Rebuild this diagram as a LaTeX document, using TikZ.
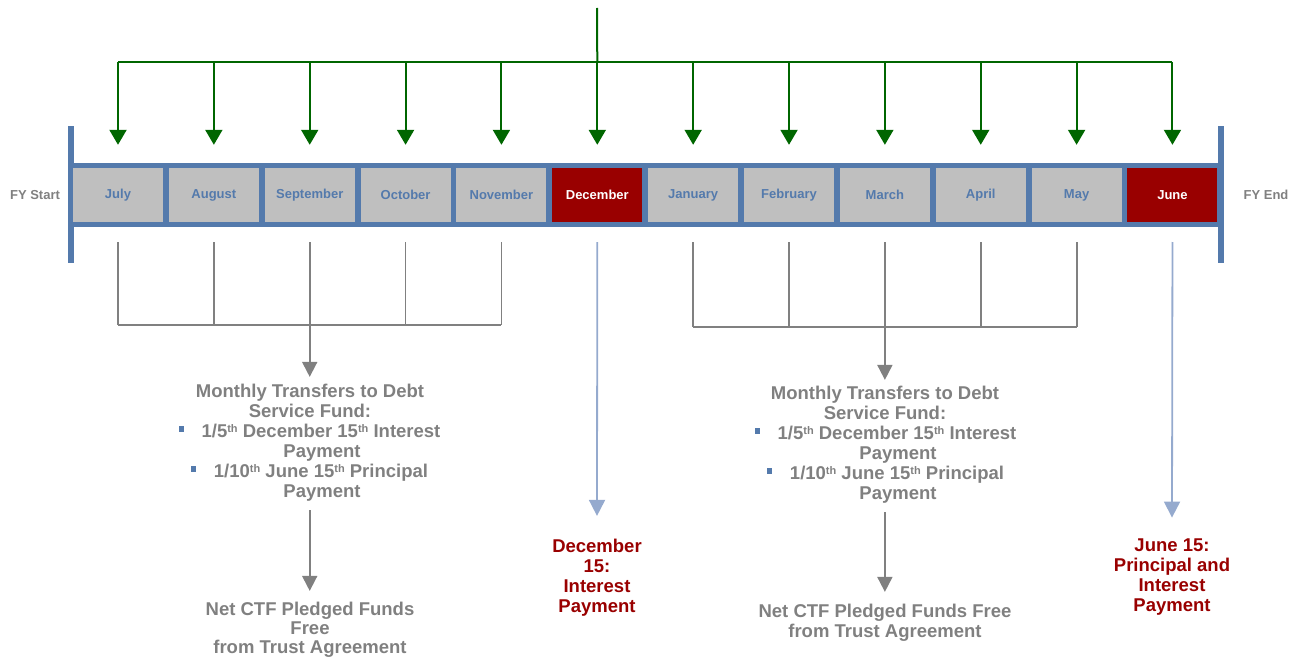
\documentclass[tikz,border=0pt]{standalone}
\usepackage{fontspec}
\setmainfont{Liberation Sans}
\usetikzlibrary{arrows.meta}
\definecolor{bandblue}{RGB}{84,122,172}
\definecolor{cellgrey}{RGB}{191,191,191}
\definecolor{darkred}{RGB}{153,0,0}
\definecolor{txtgrey}{RGB}{128,128,128}
\definecolor{arrgreen}{RGB}{0,102,0}
\definecolor{lightblue}{RGB}{149,170,206}
\definecolor{linegrey}{RGB}{128,128,128}
\newcommand\mysupth{\raisebox{4.5pt}{\fontsize{11}{11}\selectfont th}}
\begin{document}
\begin{tikzpicture}[x=1pt,y=-1pt,
 cell/.style={minimum width=90pt,minimum height=54pt,inner sep=0,fill=cellgrey,text=bandblue,font=\fontsize{13}{15}\selectfont\bfseries},
 redcell/.style={cell,fill=darkred,text=white},
 body/.style={inner sep=0,anchor=base,text=txtgrey,font=\fontsize{18.5}{20}\selectfont\bfseries},
 redtxt/.style={body,text=darkred},
 fytxt/.style={inner sep=0,anchor=base,text=txtgrey,font=\fontsize{13}{15}\selectfont\bfseries},
 bulletbox/.style={fill=bandblue,minimum size=5.5pt,inner sep=0},
 gline/.style={arrgreen,line width=2pt},
 garrow/.style={gline,-{Triangle[width=17pt,length=15pt]}},
 tline/.style={linegrey,line width=1.8pt},
 tarrow/.style={tline,-{Triangle[width=15pt,length=15pt]}},
 barrow/.style={lightblue,line width=1.8pt,-{Triangle[width=16pt,length=16pt]}},
]
\useasboundingbox (0,0) rectangle (1301,658);
% band
\fill[bandblue] (74,163) rectangle (1218,227);
\fill[bandblue] (68,126) rectangle (74,263);
\fill[bandblue] (1218,126) rectangle (1224,263);
\foreach \m/\s [count=\i] in {July/cell,August/cell,September/cell,October/cell,November/cell,December/redcell,January/cell,February/cell,March/cell,April/cell,May/cell,June/redcell}
  \node[\s] (m\i) at ({118+95.86*(\i-1)},195) {\m};
\node[fytxt] (fys) at (35,199) {FY Start};
\node[fytxt] (fye) at (1266,199) {FY End};
% green distribution
\coordinate (top) at (597,8);
\coordinate (bus) at (0,62);
\coordinate (tl) at (0,242);
\coordinate (hb1) at (0,325);
\coordinate (hb2) at (0,327);
\draw[gline] (top) -- (m6 |- bus);
\draw[gline] (m1 |- bus) -- (m12 |- bus);
\foreach \i in {1,...,12}
  \draw[garrow] (m\i |- bus) -- ([yshift=23pt]m\i.north);
% left text block
\node[body] (h1a) at (310,397) {Monthly Transfers to Debt};
\node[body] (h1b) at (310,417) {Service Fund:};
\node[body] (l3) at (321,437) {1/5\mysupth{} December 15\mysupth{} Interest};
\node[body] (l4) at (322,457) {Payment};
\node[body] (l5) at (321,477) {1/10\mysupth{} June 15\mysupth{} Principal};
\node[body] (l6) at (322,497) {Payment};
\node[bulletbox] (bl3) at ([xshift=-20pt,yshift=8pt]l3.base west) {};
\node[bulletbox] (bl5) at ([xshift=-20.5pt,yshift=8pt]l5.base west) {};
\node[body] (n1a) at (310,615) {Net CTF Pledged Funds};
\node[body] (n1b) at (310,634) {Free};
\node[body] (n1c) at (310,653) {from Trust Agreement};
% right text block
\node[body] (h2a) at (885,399) {Monthly Transfers to Debt};
\node[body] (h2b) at (885,419) {Service Fund:};
\node[body] (r3) at (897,439) {1/5\mysupth{} December 15\mysupth{} Interest};
\node[body] (r4) at (898,459) {Payment};
\node[body] (r5) at (897,479) {1/10\mysupth{} June 15\mysupth{} Principal};
\node[body] (r6) at (898,499) {Payment};
\node[bulletbox] (br3) at ([xshift=-20pt,yshift=8pt]r3.base west) {};
\node[bulletbox] (br5) at ([xshift=-20.5pt,yshift=8pt]r5.base west) {};
\node[body] (n2a) at (885,617) {Net CTF Pledged Funds Free};
\node[body] (n2b) at (885,637) {from Trust Agreement};
% red payment texts
\node[redtxt] (d1) at (597,552) {December};
\node[redtxt] (d2) at (597,572) {15:};
\node[redtxt] (d3) at (597,592) {Interest};
\node[redtxt] (d4) at (597,612) {Payment};
\node[redtxt] (j1) at (1172,551) {June 15:};
\node[redtxt] (j2) at (1172,571) {Principal and};
\node[redtxt] (j3) at (1172,591) {Interest};
\node[redtxt] (j4) at (1172,611) {Payment};
% grey collectors left
\foreach \i in {1,...,5}
  \draw[tline] (m\i |- tl) -- (m\i |- hb1);
\draw[tline] (m1 |- hb1) -- (m5 |- hb1);
\draw[tarrow] (m3 |- hb1) -- ([yshift=6.5pt]m3 |- h1a.north);
\draw[tarrow] ([yshift=-9pt]m3 |- l6.south) -- ([yshift=10.5pt]m3 |- n1a.north);
% grey collectors right
\foreach \i in {7,...,11}
  \draw[tline] (m\i |- tl) -- (m\i |- hb2);
\draw[tline] (m7 |- hb2) -- (m11 |- hb2);
\draw[tarrow] (m9 |- hb2) -- ([yshift=5.5pt]m9 |- h2a.north);
\draw[tarrow] ([yshift=-9pt]m9 |- r6.south) -- ([yshift=11.5pt]m9 |- n2a.north);
% payment arrows
\draw[barrow] (m6 |- tl) -- ([yshift=22.5pt]d1.north);
\draw[barrow] (m12 |- tl) -- ([yshift=20.5pt]j1.north);
\end{tikzpicture}
\end{document}
